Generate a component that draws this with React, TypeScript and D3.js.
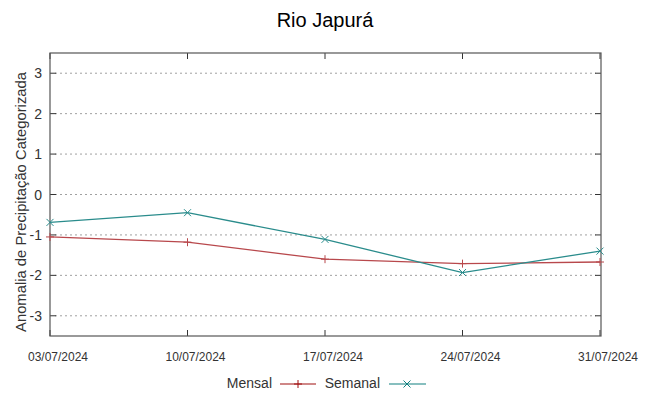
import React from "react";
import * as d3 from "d3";

const dates = ["03/07/2024", "10/07/2024", "17/07/2024", "24/07/2024", "31/07/2024"];
const mensal = [-1.05, -1.18, -1.6, -1.71, -1.67];
const semanal = [-0.69, -0.45, -1.11, -1.93, -1.4];
const yTicks = [-3, -2, -1, 0, 1, 2, 3];

const W = 649, H = 396;
const L = 50, R = 601, T = 53, B = 336;
const FONT = "'Liberation Sans', Arial, sans-serif";

export default function App() {
  const x = d3.scalePoint<string>().domain(dates).range([L, R - 1]);
  const y = d3.scaleLinear().domain([-3.5, 3.5]).range([B, T]);
  const line = d3.line<number>().x((_, i) => x(dates[i])!).y((d) => y(d));
  const cMensal = "#b8484c";
  const cSemanal = "#2a8c8c";
  const plus = (cx: number, cy: number, c: string, k: string) => (
    <g key={k} stroke={c} strokeWidth={1}>
      <line x1={cx - 4} x2={cx + 4} y1={cy} y2={cy} />
      <line x1={cx} x2={cx} y1={cy - 4} y2={cy + 4} />
    </g>
  );
  const cross = (cx: number, cy: number, c: string, k: string) => (
    <g key={k} stroke={c} strokeWidth={1}>
      <line x1={cx - 3.5} x2={cx + 3.5} y1={cy - 3.5} y2={cy + 3.5} />
      <line x1={cx - 3.5} x2={cx + 3.5} y1={cy + 3.5} y2={cy - 3.5} />
    </g>
  );
  return (
    <svg width={W} height={H} style={{ position: "absolute", left: 0, top: 0 }} fontFamily={FONT}>
      <rect width={W} height={H} fill="#fff" />
      <text x={325} y={27} textAnchor="middle" fontSize={20} fill="#000">Rio Japurá</text>
      {yTicks.map((t) => (
        <g key={t}>
          <line x1={L + 5} x2={R - 5} y1={y(t)} y2={y(t)} stroke="#a0a0a0" strokeDasharray="2,3" strokeWidth={1} />
          <line x1={L} x2={L + 6} y1={y(t)} y2={y(t)} stroke="#333" />
          <line x1={R - 6} x2={R} y1={y(t)} y2={y(t)} stroke="#333" />
          <text x={42} y={y(t) + 5} textAnchor="end" fontSize={14} fill="#333">{t}</text>
        </g>
      ))}
      {dates.map((d) => (
        <g key={d}>
          <line x1={x(d)} x2={x(d)} y1={B} y2={B - 6} stroke="#333" />
          <line x1={x(d)} x2={x(d)} y1={T} y2={T + 6} stroke="#333" />
          <text x={x(d)! + 8} y={361} textAnchor="middle" fontSize={12} fill="#333">{d}</text>
        </g>
      ))}
      <rect x={L} y={T} width={R - L} height={B - T} fill="none" stroke="#555" strokeWidth={1.2} />
      <text transform={`translate(26,202) rotate(-90)`} textAnchor="middle" fontSize={14.8} fill="#333">
        Anomalia de Precipitação Categorizada
      </text>
      <path d={line(mensal)!} fill="none" stroke={cMensal} strokeWidth={1.3} />
      <path d={line(semanal)!} fill="none" stroke={cSemanal} strokeWidth={1.3} />
      {mensal.map((v, i) => plus(x(dates[i])!, y(v), cMensal, "m" + i))}
      {semanal.map((v, i) => cross(x(dates[i])!, y(v), cSemanal, "s" + i))}
      <text x={272} y={388} textAnchor="end" fontSize={14} fill="#333">Mensal</text>
      <line x1={280} x2={316} y1={384} y2={384} stroke="#a01010" strokeWidth={1.2} />
      {plus(298, 384, "#a01010", "lm")}
      <text x={380} y={388} textAnchor="end" fontSize={14} fill="#333">Semanal</text>
      <line x1={389} x2={426} y1={384} y2={384} stroke="#108080" strokeWidth={1.2} />
      {cross(407, 384, "#108080", "ls")}
    </svg>
  );
}
